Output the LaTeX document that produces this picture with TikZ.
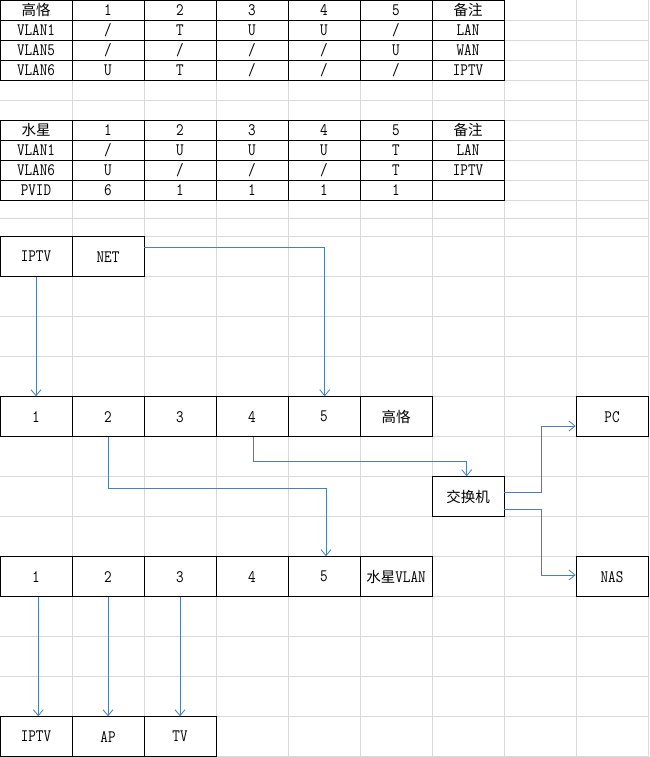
\documentclass[tikz,border=0pt]{standalone}
\usepackage{fontspec}
\setmonofont[FakeStretch=0.84]{Latin Modern Mono}
\newfontfamily\cjk{Noto Sans CJK SC}
\newcommand\zhtxt[1]{{\cjk\fontsize{14.5}{15}\selectfont #1}}
\usetikzlibrary{arrows.meta}
\definecolor{gridc}{HTML}{D9D9D9}
\definecolor{arr}{HTML}{4A7EBB}
\begin{document}
\begin{tikzpicture}[x=1pt,y=-1pt,
  gridline/.style={draw=gridc, line width=0.9pt},
  cell/.style={draw=black, line width=0.9pt, minimum width=72pt, minimum height=20pt,
    inner sep=0pt, font=\ttfamily\fontsize{17.5}{17.5}\selectfont},
  box/.style={cell, minimum height=40pt},
  link/.style={draw=arr, line width=0.9pt, -{Straight Barb[length=6pt,width=10pt,line width=0.8pt]}}]
\useasboundingbox[fill=white] (0,0) rectangle (649,757);
% spreadsheet grid
\foreach \x in {72,144,216,288,360,432,504,576,648}
  \draw[gridline] (\x,0) -- (\x,757);
\foreach \y in {20,40,60,80,100,120,140,160,180,200,218.5,236.7,276.7,316.7,356.7,396.7,436.7,476.7,516.7,556.7,596.7,636.7,676.7,716.7,756.5}
  \draw[gridline] (0,\y) -- (649,\y);
% table 1
\foreach [count=\c] \t in {{\zhtxt{高恪}},1,2,3,4,5,{\zhtxt{备注}}}
  \node[cell] (a1-\c) at (72*\c-36,10) {\t};
\foreach [count=\c] \t in {VLAN1,/,T,U,U,/,LAN}
  \node[cell] (a2-\c) at (72*\c-36,30) {\t};
\foreach [count=\c] \t in {VLAN5,/,/,/,/,U,WAN}
  \node[cell] (a3-\c) at (72*\c-36,50) {\t};
\foreach [count=\c] \t in {VLAN6,U,T,/,/,/,IPTV}
  \node[cell] (a4-\c) at (72*\c-36,70) {\t};
% table 2
\foreach [count=\c] \t in {{\zhtxt{水星}},1,2,3,4,5,{\zhtxt{备注}}}
  \node[cell] (b1-\c) at (72*\c-36,130) {\t};
\foreach [count=\c] \t in {VLAN1,/,U,U,U,T,LAN}
  \node[cell] (b2-\c) at (72*\c-36,150) {\t};
\foreach [count=\c] \t in {VLAN6,U,/,/,/,T,IPTV}
  \node[cell] (b3-\c) at (72*\c-36,170) {\t};
\foreach [count=\c] \t in {PVID,6,1,1,1,1,{}}
  \node[cell] (b4-\c) at (72*\c-36,190) {\t};
% sources
\node[box] (iptv) at (36,256.7) {IPTV};
\node[box] (net) at (108,256.7) {NET};
% router row
\node[box] (r1) at (36,416.7) {1};
\node[box] (r2) at (108,416.7) {2};
\node[box] (r3) at (180,416.7) {3};
\node[box] (r4) at (252,416.7) {4};
\node[box] (r5) at (324,416.7) {5};
\node[box] (r6) at (396,416.7) {\zhtxt{高恪}};
% switch and ends
\node[box] (sw) at (468,496.7) {\zhtxt{交换机}};
\node[box] (pc) at (612,416.7) {PC};
\node[box] (nas) at (612,576.7) {NAS};
% mercury row
\node[box] (m1) at (36,576.7) {1};
\node[box] (m2) at (108,576.7) {2};
\node[box] (m3) at (180,576.7) {3};
\node[box] (m4) at (252,576.7) {4};
\node[box] (m5) at (324,576.7) {5};
\node[box] (m6) at (396,576.7) {\zhtxt{水星}VLAN};
% devices
\node[box] (d1) at (36,736.7) {IPTV};
\node[box] (d2) at (108,736.7) {AP};
\node[box] (d3) at (180,736.7) {TV};
% links
\draw[link] (iptv.south) -- (r1.north);
\draw[link] ([yshift=9.4pt]net.east) -| ([xshift=0.7pt]r5.north);
\draw[link] ([xshift=1.3pt]r4.south) -- ++(0,24.5) -| ([xshift=-1.3pt]sw.north);
\draw[link] (r2.south) -- ++(0,51.6) -| ([xshift=2pt]m5.north);
\draw[link] ([yshift=4.4pt]sw.east) -- ++(36.7,0) |- ([yshift=-9.3pt]pc.west);
\draw[link] ([yshift=-12.3pt]sw.east) -- ++(36.7,0) |- ([yshift=1.7pt]nas.west);
\draw[link] ([xshift=2.3pt]m1.south) -- ([xshift=2.3pt]d1.north);
\draw[link] (m2.south) -- (d2.north);
\draw[link] (m3.south) -- (d3.north);
\end{tikzpicture}
\end{document}
